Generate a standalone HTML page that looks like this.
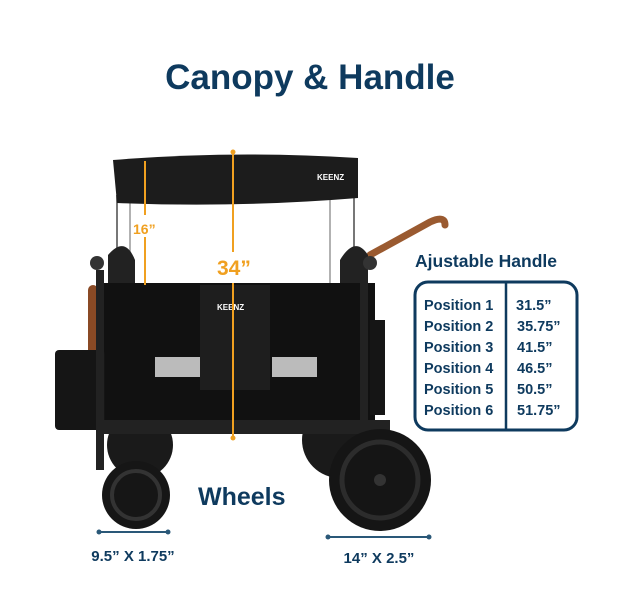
<!DOCTYPE html>
<html><head><style>
body{margin:0;background:#fff;}
svg{display:block;}
text{font-family:"Liberation Sans",sans-serif;font-weight:bold;}
</style></head><body>
<svg width="619" height="591" viewBox="0 0 619 591" xmlns="http://www.w3.org/2000/svg">
<text x="310" y="89" text-anchor="middle" font-size="35" fill="#0e3a5e">Canopy &amp; Handle</text>
<!-- rear wheels -->
<circle cx="140" cy="445" r="33" fill="#1a1a1a"/>
<circle cx="340" cy="440" r="38" fill="#1a1a1a"/>
<!-- canopy poles -->
<line x1="117" y1="195" x2="117" y2="285" stroke="#777" stroke-width="2"/>
<line x1="130" y1="195" x2="130" y2="285" stroke="#999" stroke-width="1.5"/>
<line x1="330" y1="195" x2="330" y2="285" stroke="#999" stroke-width="1.5"/>
<line x1="354" y1="195" x2="354" y2="285" stroke="#777" stroke-width="2"/>
<!-- canopy -->
<path d="M113 160 Q235 150 358 158 L358 198 Q235 208 117 203 Z" fill="#1c1c1c"/>
<text x="317" y="180" font-size="8" fill="#fff">KEENZ</text>
<!-- handle -->
<path d="M370 255 L430 222 Q445 215 445 225" stroke="#9a5a30" stroke-width="7" fill="none" stroke-linecap="round"/>
<rect x="88" y="285" width="10" height="75" rx="5" fill="#8a4a25"/>
<!-- seat backs -->
<path d="M108 255 Q125 235 135 260 L135 290 L108 290Z" fill="#222"/>
<path d="M340 260 Q355 235 368 255 L368 290 L340 290Z" fill="#222"/>
<!-- body -->
<rect x="100" y="283" width="275" height="150" fill="#111"/>
<rect x="55" y="350" width="50" height="80" rx="4" fill="#151515"/>
<rect x="370" y="320" width="15" height="95" fill="#151515"/>
<rect x="200" y="285" width="70" height="105" fill="#1e1e1e"/>
<text x="217" y="310" font-size="8" fill="#fff">KEENZ</text>
<rect x="155" y="357" width="45" height="20" fill="#bbb"/>
<rect x="272" y="357" width="45" height="20" fill="#bbb"/>
<circle cx="97" cy="263" r="7" fill="#333"/>
<circle cx="370" cy="263" r="7" fill="#333"/>
<rect x="100" y="420" width="290" height="14" fill="#222"/>
<rect x="96" y="270" width="8" height="200" fill="#222"/>
<rect x="360" y="270" width="8" height="170" fill="#222"/>
<!-- front wheels -->
<circle cx="136" cy="495" r="34" fill="#161616"/>
<circle cx="136" cy="495" r="24" fill="none" stroke="#333" stroke-width="4"/>
<circle cx="380" cy="480" r="51" fill="#151515"/>
<circle cx="380" cy="480" r="38" fill="none" stroke="#2c2c2c" stroke-width="5"/>
<circle cx="380" cy="480" r="6" fill="#333"/>
<!-- dimension lines -->
<g stroke="#f0a020" stroke-width="2">
<line x1="233" y1="152" x2="233" y2="252"/>
<line x1="233" y1="283" x2="233" y2="438"/>
<line x1="145" y1="161" x2="145" y2="215"/>
<line x1="145" y1="237" x2="145" y2="285"/>
</g>
<circle cx="233" cy="152" r="2.5" fill="#f0a020"/>
<circle cx="233" cy="438" r="2.5" fill="#f0a020"/>
<text x="133" y="234" font-size="14" fill="#f0a020">16”</text>
<text x="217" y="275" font-size="21" fill="#f0a020">34”</text>
<text x="198" y="505" font-size="25" fill="#0e3a5e">Wheels</text>
<!-- wheel dims -->
<g stroke="#2a5878" stroke-width="2">
<line x1="99" y1="532" x2="168" y2="532"/>
<line x1="328" y1="537" x2="429" y2="537"/>
</g>
<circle cx="99" cy="532" r="2.5" fill="#2a5878"/><circle cx="168" cy="532" r="2.5" fill="#2a5878"/>
<circle cx="328" cy="537" r="2.5" fill="#2a5878"/><circle cx="429" cy="537" r="2.5" fill="#2a5878"/>
<text x="133" y="561" text-anchor="middle" font-size="15" fill="#0e3a5e">9.5” X 1.75”</text>
<text x="379" y="563" text-anchor="middle" font-size="15" fill="#0e3a5e">14” X 2.5”</text>
<!-- table -->
<text x="415" y="267" font-size="17.5" fill="#0e3a5e">Ajustable Handle</text>
<rect x="415" y="282" width="162" height="148" rx="13" fill="none" stroke="#0e3a5e" stroke-width="3"/>
<line x1="506" y1="282" x2="506" y2="430" stroke="#0e3a5e" stroke-width="2.5"/>
<g font-size="14.5" fill="#0e3a5e">
<text x="424" y="310">Position  1</text><text x="516" y="310">31.5”</text>
<text x="424" y="331">Position  2</text><text x="517" y="331">35.75”</text>
<text x="424" y="352">Position 3</text><text x="517" y="352">41.5”</text>
<text x="424" y="373">Position 4</text><text x="517" y="373">46.5”</text>
<text x="424" y="394">Position 5</text><text x="517" y="394">50.5”</text>
<text x="424" y="415">Position 6</text><text x="517" y="415">51.75”</text>
</g>
</svg>
</body></html>
